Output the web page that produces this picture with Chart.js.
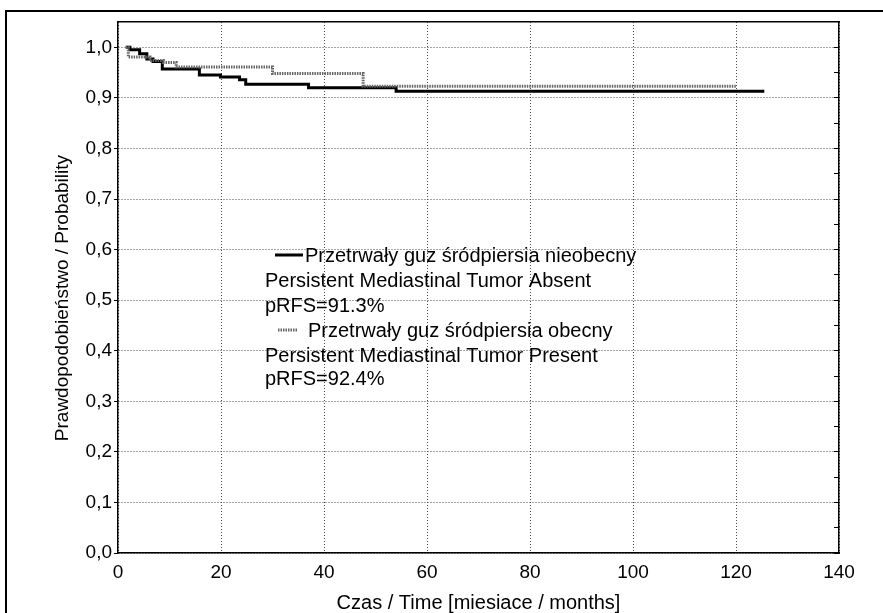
<!DOCTYPE html>
<html>
<head>
<meta charset="utf-8">
<script src="https://cdn.jsdelivr.net/npm/chart.js@4.4.1/dist/chart.umd.min.js"></script>
<style>
  html, body { margin: 0; padding: 0; background: #fff; }
  #wrap { position: relative; width: 883px; height: 613px; overflow: hidden; }
  #frame { position: absolute; left: 5px; top: 10px; width: 900px; height: 620px;
           border-top: 2px solid #000; border-left: 2px solid #000; box-sizing: border-box; }
  canvas { position: absolute; left: 0; top: 0; }
</style>
</head>
<body>
<div id="wrap">
  <div id="frame"></div>
  <canvas id="c" width="883" height="613"></canvas>
</div>
<script>
// ---- data ----
const absentTimes = [1.5, 2.3, 4.2, 5.6, 6.8, 8.6, 15.8, 19.9, 23.6, 24.8, 37, 54, 125.5];
const absentSurv  = [1.000, 0.995, 0.987, 0.977, 0.972, 0.957, 0.945, 0.941, 0.936, 0.927, 0.920, 0.913, 0.913];
const presentTimes = [1.5, 2.0, 6.2, 8.8, 11.3, 30.0, 47.6, 120.0];
const presentSurv  = [1.000, 0.981, 0.974, 0.970, 0.961, 0.948, 0.923, 0.923];

const xTickValues = [0, 20, 40, 60, 80, 100, 120, 140];
const xTickLabels = ['0', '20', '40', '60', '80', '100', '120', '140'];
const yTickValues = [0, 0.1, 0.2, 0.3, 0.4, 0.5, 0.6, 0.7, 0.8, 0.9, 1.0];
const yTickLabels = ['0,0', '0,1', '0,2', '0,3', '0,4', '0,5', '0,6', '0,7', '0,8', '0,9', '1,0'];
const yMinorValues = [0, 0.05, 0.1, 0.15, 0.2, 0.25, 0.3, 0.35, 0.4, 0.45, 0.5, 0.55, 0.6, 0.65, 0.7, 0.75, 0.8, 0.85, 0.9, 0.95, 1.0];

const xTitle = 'Czas / Time [miesiace / months]';
const yTitle = 'Prawdopodobieństwo / Probability\u00A0\u00A0\u00A0\u00A0';
const legendLines = [
  'Przetrwały guz śródpiersia nieobecny',
  'Persistent Mediastinal Tumor Absent',
  'pRFS=91.3%',
  'Przetrwały guz śródpiersia obecny',
  'Persistent Mediastinal Tumor Present',
  'pRFS=92.4%'
];

const FONT = '"Liberation Sans", Arial, sans-serif';
const toPts = (ts, ss) => ts.map((t, i) => ({ x: t, y: ss[i] }));

const absentStyle = { color: '#000000', width: 3, dash: [] };
const presentStyle = { color: '#666666', width: 3, dash: [1.5, 1] };

const legendPlugin = {
  id: 'kmLegend',
  afterDraw(chart) {
    const ctx = chart.ctx;
    ctx.save();
    ctx.font = '20px ' + FONT;
    ctx.fillStyle = '#000';
    ctx.textBaseline = 'alphabetic';
    ctx.textAlign = 'left';
    ctx.lineCap = 'butt';
    ctx.strokeStyle = absentStyle.color; ctx.lineWidth = absentStyle.width; ctx.setLineDash(absentStyle.dash);
    ctx.beginPath(); ctx.moveTo(275, 255); ctx.lineTo(303, 255); ctx.stroke();
    ctx.strokeStyle = presentStyle.color; ctx.lineWidth = presentStyle.width; ctx.setLineDash(presentStyle.dash);
    ctx.beginPath(); ctx.moveTo(278, 330); ctx.lineTo(297, 330); ctx.stroke();
    ctx.setLineDash([]);
    const xs = [305, 265, 265, 308, 265, 265];
    const ys = [262, 287, 312, 337, 362, 385];
    legendLines.forEach((t, i) => ctx.fillText(t, xs[i], ys[i]));
    ctx.restore();
  }
};

const gridDash = [1, 2];
const gridColor = '#4a4a4a';

new Chart(document.getElementById('c'), {
  type: 'line',
  data: {
    datasets: [
      {
        label: legendLines[3],
        data: toPts(presentTimes, presentSurv),
        borderColor: presentStyle.color,
        borderWidth: presentStyle.width,
        borderDash: presentStyle.dash,
        stepped: true, pointRadius: 0, fill: false, borderCapStyle: 'butt'
      },
      {
        label: legendLines[0],
        data: toPts(absentTimes, absentSurv),
        borderColor: absentStyle.color,
        borderWidth: absentStyle.width,
        stepped: true, pointRadius: 0, fill: false, borderCapStyle: 'butt'
      }
    ]
  },
  options: {
    responsive: false,
    animation: false,
    devicePixelRatio: 1,
    layout: { padding: { left: 0, top: 22, right: 44, bottom: 0 } },
    plugins: { legend: { display: false }, tooltip: { enabled: false } },
    scales: {
      x: {
        type: 'linear', position: 'bottom', min: 0, max: 140,
        afterBuildTicks: s => { s.ticks = xTickValues.map(v => ({ value: v })); },
        afterFit: s => { s.height = 60; },
        ticks: {
          callback: (v) => { const i = xTickValues.indexOf(v); return i >= 0 ? xTickLabels[i] : ''; },
          font: { family: FONT, size: 19 }, color: '#000', padding: 8, maxRotation: 0, autoSkip: false
        },
        grid: { color: gridColor, lineWidth: 1, drawTicks: false },
        border: { display: true, color: '#000', width: 1.5, dash: gridDash },
        title: { display: true, text: xTitle, color: '#000',
                 font: { family: FONT, size: 20, lineHeight: 1 }, padding: { top: 0, bottom: 0 } }
      },
      y: {
        type: 'linear', position: 'left', min: 0, max: 1.05,
        afterBuildTicks: s => { s.ticks = yTickValues.map(v => ({ value: v })); },
        afterFit: s => { s.width = 118; },
        ticks: {
          callback: (v) => { const i = yTickValues.findIndex(t => Math.abs(t - v) < 1e-9); return i >= 0 ? yTickLabels[i] : ''; },
          font: { family: FONT, size: 19 }, color: '#000', padding: 2, autoSkip: false
        },
        grid: { color: gridColor, lineWidth: 1, drawTicks: true, tickLength: 4, tickColor: '#000', tickWidth: 1 },
        border: { display: true, color: '#000', width: 1.5, dash: gridDash },
        title: { display: true, text: yTitle, color: '#000',
                 font: { family: FONT, size: 19, lineHeight: 1.2 }, padding: { top: 51, bottom: 0 } }
      },
      x2: {
        type: 'linear', position: 'top', min: 0, max: 140,
        afterFit: s => { s.height = 0; },
        ticks: { display: false },
        grid: { drawOnChartArea: false, drawTicks: false },
        border: { display: true, color: '#000', width: 1.5 }
      },
      y2: {
        type: 'linear', position: 'right', min: 0, max: 1.05,
        afterBuildTicks: s => { s.ticks = yMinorValues.map(v => ({ value: v })); },
        afterFit: s => { s.width = 0; },
        ticks: { display: false },
        grid: { drawOnChartArea: false, drawTicks: true, tickLength: -5, tickColor: '#000', tickWidth: 1 },
        border: { display: true, color: '#000', width: 1.5 }
      }
    }
  },
  plugins: [legendPlugin]
});
</script>
</body>
</html>
